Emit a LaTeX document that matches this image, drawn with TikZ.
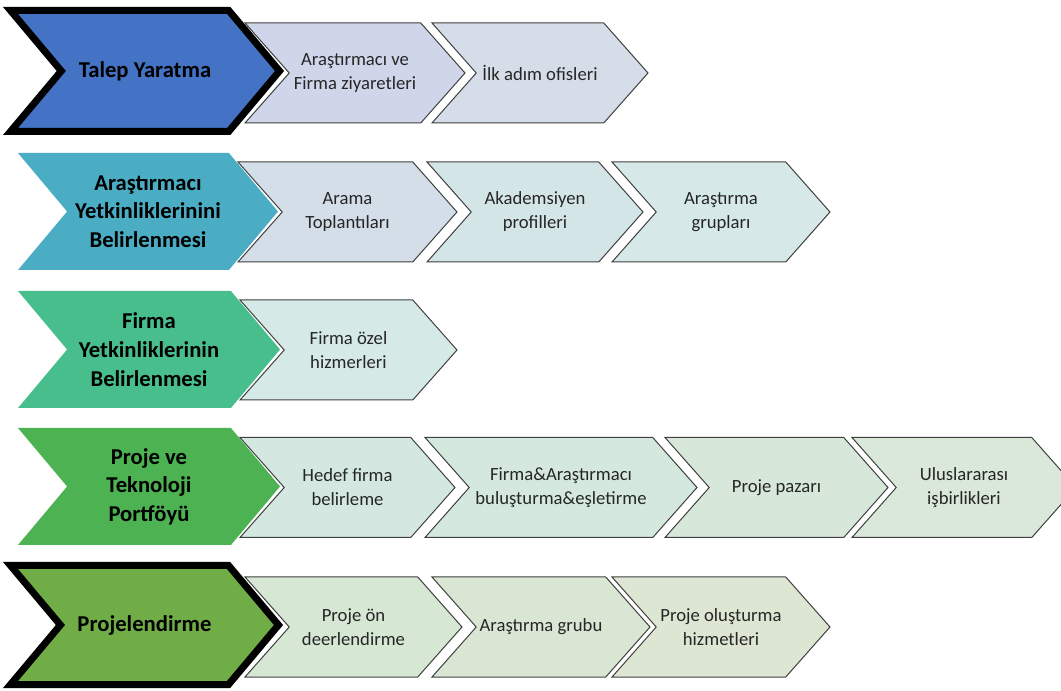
\documentclass[tikz,border=0pt]{standalone}
\usepackage{fontspec}
\setmainfont{Carlito}
\usetikzlibrary{shapes.symbols}

\definecolor{talepblue}{HTML}{4472C4}
\definecolor{arteal}{HTML}{4AADC4}
\definecolor{firmagreen}{HTML}{48BE8C}
\definecolor{projegreen}{HTML}{4CB252}
\definecolor{olivegreen}{HTML}{70AD47}

\begin{document}
\begin{tikzpicture}[
    x=0.75pt, y=-0.75pt,
    phase/.style={
      shape=signal,
      signal to=east,
      signal from=west,
      signal pointer angle=100,
      minimum height=87.75pt,
      inner sep=0pt,
      align=center,
      font=\bfseries\fontsize{17}{21.5}\selectfont
    },
    framed/.style={draw=black, line width=5.25pt},
    task/.style={
      shape=signal,
      signal to=east,
      signal from=west,
      signal pointer angle=97,
      minimum height=75pt,
      draw=black!75,
      line width=0.75pt,
      preaction={draw=white, line width=3.5pt},
      inner sep=0pt,
      align=center,
      text=black!85,
      font=\fontsize{14}{18}\selectfont
    }
  ]
    \useasboundingbox (0,0) rectangle (1061,691);

    \node[task, fill={rgb,255:red,213;green,221;blue,233}, minimum width=162pt] (ofis) at (540,73) {İlk adım ofisleri};
    \node[task, fill={rgb,255:red,208;green,214;blue,234}, minimum width=165pt] (ziyaret) at (355,73) {Araştırmacı ve\\Firma ziyaretleri};
    \node[phase, framed, fill=talepblue, minimum width=201.75pt, minimum height=90.75pt] (talep) at (145,71) {Talep Yaratma};

    \node[task, fill={rgb,255:red,214;green,232;blue,232}, minimum width=163.5pt] (grup) at (721,212) {Araştırma\\grupları};
    \node[task, fill={rgb,255:red,212;green,229;blue,232}, minimum width=162pt] (profil) at (535,212) {Akademsiyen\\profilleri};
    \node[task, fill={rgb,255:red,211;green,222;blue,232}, minimum width=164.25pt] (arama) at (347.5,212) {Arama\\Toplantıları};
    \node[phase, fill=arteal, minimum width=195pt] (arastirmaci) at (148,211.5) {Araştırmacı\\Yetkinliklerinini\\Belirlenmesi};

    \node[task, fill={rgb,255:red,213;green,234;blue,230}, minimum width=162.75pt] (ozel) at (348.5,350) {Firma özel\\hizmerleri};
    \node[phase, fill=firmagreen, minimum width=196.5pt] (firma) at (149,349.5) {Firma\\Yetkinliklerinin\\Belirlenmesi};

    \node[task, fill={rgb,255:red,217;green,232;blue,216}, minimum width=168pt] (isbirligi) at (964,487.5) {Uluslararası\\işbirlikleri};
    \node[task, fill={rgb,255:red,215;green,232;blue,218}, minimum width=167.25pt] (pazar) at (776.5,487.5) {Proje pazarı};
    \node[task, fill={rgb,255:red,213;green,232;blue,221}, minimum width=204pt] (bulusma) at (561,487.5) {Firma\&Araştırmacı\\buluşturma\&eşletirme};
    \node[task, fill={rgb,255:red,212;green,232;blue,225}, minimum width=161.25pt] (hedef) at (347.5,487.5) {Hedef firma\\belirleme};
    \node[phase, fill=projegreen, minimum width=196.5pt] (proje) at (149,486.5) {Proje ve\\Teknoloji\\Portföyü};

    \node[task, fill={rgb,255:red,221;green,230;blue,211}, minimum width=163.5pt] (olusturma) at (721,627) {Proje oluşturma\\hizmetleri};
    \node[task, fill={rgb,255:red,217;green,230;blue,211}, minimum width=163.5pt] (argrubu) at (541,627) {Araştırma grubu};
    \node[task, fill={rgb,255:red,214;green,231;blue,212}, minimum width=162.75pt] (ondeger) at (353.5,627) {Proje ön\\deerlendirme};
    \node[phase, framed, fill=olivegreen, minimum width=201pt, minimum height=89.25pt] (projelendirme) at (144.5,625) {Projelendirme};
  \end{tikzpicture}
\end{document}
